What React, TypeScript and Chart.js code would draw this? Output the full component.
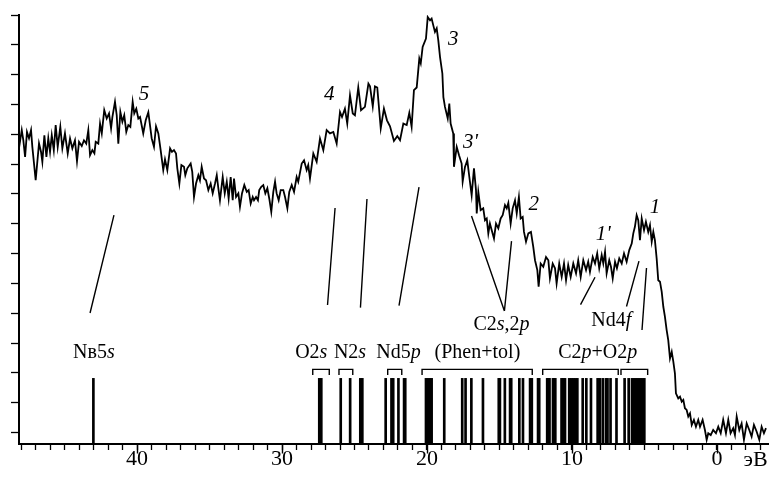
import React, { useEffect, useRef } from 'react';
import { Chart, registerables } from 'chart.js';

Chart.register(...registerables);

const FONT = "'Liberation Serif', 'Times New Roman', serif";

// axis ranges (eV, arbitrary intensity units)
const xLeftEv = 48.14;
const xRightEv = -3.52;
const yMin = -0.38;
const yMax = 14;

const majorTickValues = [40, 30, 20, 10, 0];
const yTickValues = [0, 1, 2, 3, 4, 5, 6, 7, 8, 9, 10, 11, 12, 13, 14];
const unitLabel = 'эВ';

// photoelectron spectrum: [binding energy eV, intensity]
const spectrum: [number, number][] = [
  [48.14, 9.54], [47.95, 10.14], [47.84, 9.8], [47.72, 9.24], [47.59, 10.08], [47.45, 9.87], [47.31, 10.14], [47.22, 9.58],
  [46.99, 8.46], [46.76, 9.7], [46.62, 9.41], [46.53, 9.08], [46.39, 9.97], [46.25, 9.24], [46.12, 9.87], [46.0, 9.41],
  [45.88, 9.97], [45.74, 9.47], [45.61, 10.31], [45.47, 9.58], [45.29, 10.25], [45.15, 9.53], [44.97, 10.03], [44.78, 9.36],
  [44.62, 9.86], [44.46, 9.53], [44.28, 9.8], [44.14, 9.1], [44.0, 9.75], [43.81, 9.61], [43.66, 9.8], [43.5, 9.69],
  [43.36, 10.14], [43.24, 9.3], [43.08, 9.47], [42.94, 9.36], [42.85, 9.75], [42.67, 9.69], [42.55, 10.36], [42.43, 10.03],
  [42.26, 10.81], [42.09, 10.53], [41.93, 10.7], [41.79, 10.2], [41.7, 10.58], [41.52, 11.09], [41.4, 10.64], [41.29, 9.69],
  [41.15, 10.75], [41.01, 10.42], [40.88, 10.64], [40.74, 10.08], [40.6, 10.31], [40.46, 10.25], [40.3, 11.09], [40.19, 10.7],
  [40.05, 10.86], [39.91, 10.53], [39.79, 10.58], [39.57, 10.03], [39.4, 10.47], [39.22, 10.74], [38.99, 9.87],
  [38.83, 9.58], [38.69, 10.27], [38.53, 10.03], [38.37, 9.47], [38.19, 8.8], [38.07, 9.16], [37.91, 8.8], [37.72, 9.53],
  [37.59, 9.41], [37.45, 9.47], [37.31, 9.36], [37.22, 8.86], [37.08, 8.35], [36.94, 8.97], [36.76, 8.91], [36.67, 8.63],
  [36.53, 8.86], [36.3, 9.02], [36.19, 8.74], [36.07, 7.9], [35.93, 8.35], [35.77, 8.63], [35.66, 8.46], [35.54, 8.91],
  [35.38, 8.52], [35.24, 8.46], [35.08, 8.13], [34.92, 8.35], [34.78, 8.02], [34.62, 8.35], [34.5, 8.63], [34.39, 8.19],
  [34.28, 7.79], [34.09, 8.57], [33.95, 8.02], [33.81, 8.41], [33.68, 7.85], [33.54, 8.57], [33.4, 7.79], [33.31, 8.52],
  [33.17, 7.9], [33.01, 8.02], [32.9, 7.57], [32.76, 8.02], [32.6, 8.3], [32.43, 8.07], [32.3, 8.13], [32.16, 7.68],
  [32.02, 7.9], [31.93, 7.79], [31.79, 7.9], [31.66, 7.79], [31.57, 8.13], [31.43, 8.24], [31.29, 8.3], [31.15, 8.02],
  [31.01, 8.19], [30.88, 7.85], [30.74, 7.4], [30.6, 8.07], [30.48, 8.41], [30.37, 8.02], [30.23, 7.79], [30.09, 8.13],
  [29.91, 8.13], [29.79, 7.9], [29.63, 7.52], [29.5, 8.07], [29.33, 8.3], [29.17, 8.07], [28.99, 8.57], [28.88, 8.41],
  [28.64, 9.02], [28.48, 9.13], [28.3, 8.8], [28.19, 8.97], [28.07, 8.52], [27.84, 9.36], [27.61, 9.08], [27.38, 9.86],
  [27.15, 9.47], [26.92, 10.14], [26.69, 10.03], [26.46, 10.08], [26.23, 9.69], [26.0, 10.75], [25.86, 10.58], [25.66, 10.86],
  [25.5, 10.36], [25.31, 11.31], [25.12, 10.7], [24.97, 10.64], [24.74, 11.57], [24.55, 10.81], [24.28, 10.92], [24.04, 11.7],
  [23.93, 11.61], [23.74, 10.94], [23.59, 11.61], [23.43, 11.57], [23.19, 10.2], [22.97, 10.86], [22.76, 10.47], [22.55, 10.27],
  [22.28, 9.78], [22.05, 9.94], [21.86, 9.8], [21.63, 10.36], [21.4, 10.31], [21.22, 10.72], [21.06, 10.25], [20.9, 11.48],
  [20.71, 11.57], [20.53, 12.54], [20.43, 12.38], [20.3, 12.93], [20.07, 13.21], [19.95, 13.93], [19.79, 13.82], [19.68, 13.88],
  [19.57, 13.66], [19.45, 13.43], [19.33, 13.55], [19.22, 13.15], [19.1, 12.59], [18.94, 12.04], [18.87, 11.25], [18.76, 10.92],
  [18.57, 10.53], [18.46, 11.03], [18.37, 10.36], [18.19, 10.03], [18.14, 8.91], [17.95, 9.58], [17.79, 9.3], [17.61, 9.02],
  [17.54, 8.41], [17.38, 8.91], [17.22, 9.13], [17.08, 8.57], [16.92, 7.96], [16.76, 8.86], [16.62, 8.13], [16.57, 7.35],
  [16.46, 8.07], [16.3, 7.46], [16.12, 7.52], [16.0, 7.12], [15.88, 7.18], [15.77, 6.68], [15.66, 7.01], [15.54, 6.79],
  [15.38, 6.51], [15.24, 7.01], [15.08, 6.85], [14.92, 7.18], [14.78, 7.29], [14.62, 7.63], [14.5, 7.52], [14.39, 7.7],
  [14.23, 7.01], [14.09, 7.52], [13.93, 7.79], [13.81, 7.35], [13.66, 7.9], [13.54, 7.18], [13.4, 7.23], [13.31, 6.73],
  [13.17, 6.4], [13.01, 6.68], [12.83, 6.73], [12.67, 6.23], [12.55, 5.78], [12.39, 5.45], [12.3, 4.89], [12.16, 5.67],
  [11.98, 5.56], [11.79, 5.89], [11.63, 5.78], [11.52, 5.17], [11.33, 5.67], [11.17, 5.51], [11.06, 5.0], [10.88, 5.67],
  [10.71, 5.22], [10.55, 5.67], [10.41, 5.11], [10.26, 5.62], [10.09, 5.22], [9.91, 5.67], [9.72, 5.34], [9.57, 5.78],
  [9.4, 5.22], [9.22, 5.78], [9.03, 5.45], [8.88, 5.73], [8.76, 5.39], [8.57, 5.89], [8.41, 5.67], [8.26, 6.01],
  [8.12, 5.51], [7.95, 5.95], [7.84, 5.67], [7.72, 6.06], [7.61, 5.34], [7.43, 5.78], [7.31, 5.56], [7.19, 5.17],
  [7.03, 5.73], [6.9, 5.51], [6.74, 5.84], [6.57, 5.67], [6.41, 6.01], [6.23, 5.73], [6.05, 6.12], [5.88, 6.34],
  [5.77, 6.68], [5.66, 6.9], [5.54, 7.29], [5.43, 7.12], [5.31, 6.45], [5.19, 7.18], [5.03, 6.79], [4.9, 7.07],
  [4.74, 6.73], [4.62, 6.96], [4.5, 6.4], [4.39, 6.73], [4.28, 6.45], [4.16, 5.84], [4.05, 5.11], [3.93, 5.06],
  [3.81, 4.72], [3.7, 4.22], [3.59, 3.89], [3.47, 3.44], [3.36, 3.1], [3.24, 2.49], [3.12, 2.71], [3.01, 2.38],
  [2.9, 1.99], [2.83, 1.32], [2.67, 1.15], [2.55, 1.21], [2.43, 1.04], [2.32, 1.1], [2.21, 0.82], [2.09, 0.76],
  [1.98, 0.54], [1.86, 0.65], [1.74, 0.26], [1.59, 0.43], [1.45, 0.2], [1.29, 0.43], [1.17, 0.2], [0.99, 0.43],
  [0.83, 0.09], [0.71, -0.24], [0.6, -0.02], [0.43, -0.08], [0.26, 0.09], [0.07, -0.02], [-0.09, 0.2], [-0.26, -0.02],
  [-0.43, 0.43], [-0.62, -0.02], [-0.78, 0.43], [-0.94, -0.02], [-1.12, 0.15], [-1.24, -0.08], [-1.36, 0.54], [-1.54, 0.09],
  [-1.7, 0.31], [-1.86, -0.24], [-2.05, 0.31], [-2.23, 0.09], [-2.39, -0.13], [-2.55, 0.26], [-2.74, 0.03], [-2.92, -0.24],
  [-3.08, 0.2], [-3.24, -0.02], [-3.38, 0.15],
];

// calculated one-electron levels (eV)
const levelEnergies = [
  43.01,
  27.43, 27.29, 25.95, 25.3, 24.6, 24.46,
  22.85, 22.45, 22.33, 21.97, 21.58, 21.5,
  20.07, 19.93, 19.79, 19.68, 18.81, 17.57, 17.34, 16.94, 16.14, 15.05, 14.97, 14.63,
  14.27, 14.19, 13.63, 13.38, 12.89, 12.77, 12.34, 12.26,
  11.71, 11.63, 11.55, 11.31, 11.23, 11.15, 10.72, 10.6, 10.48,
  10.19, 10.05, 9.91, 9.77, 9.63, 9.26, 9.01, 8.69, 8.23, 8.09, 7.88, 7.66, 7.55, 7.34, 6.93,
  6.37, 6.09, 5.86, 5.72, 5.59, 5.45, 5.31, 5.17, 5.01,
];
const levelTop = 1.82;

// group brackets [from eV, to eV]
const bracketRanges: [number, number][] = [
  [27.88, 26.74], [26.07, 25.12], [22.71, 21.74], [20.34, 12.74], [12.02, 6.81], [6.62, 4.78],
];
const bracketTop = 2.12;
const bracketLeg = 1.93;

// assignment guide lines [[eV, y], [eV, y]]
const guideLines: [number, number][][] = [
  [[41.59, 7.29], [43.24, 4.01]],
  [[26.34, 7.53], [26.86, 4.28]],
  [[24.14, 7.83], [24.59, 4.19]],
  [[20.55, 8.23], [21.93, 4.26]],
  [[16.93, 7.26], [14.66, 4.08]],
  [[14.17, 6.42], [14.66, 4.08]],
  [[8.41, 5.21], [9.41, 4.29]],
  [[5.38, 5.75], [6.24, 4.23]],
  [[4.86, 5.52], [5.17, 3.44]],
];

// text: '_' toggles italic
const bandLabels = [
  { text: 'Nв5_s_', e: 42.97, y: 2.5 },
  { text: 'O2_s_', e: 27.98, y: 2.5 },
  { text: 'N2_s_', e: 25.31, y: 2.5 },
  { text: 'Nd5_p_', e: 21.97, y: 2.5 },
  { text: '(Phen+tol)', e: 16.52, y: 2.5 },
  { text: 'C2_p_+O2_p_', e: 8.22, y: 2.5 },
  { text: 'C2_s_,2_p_', e: 14.86, y: 3.44 },
  { text: 'Nd4_f_', e: 7.29, y: 3.57 },
];
const peakLabels = [
  { text: '5', e: 39.52, y: 11.14 },
  { text: '4', e: 26.74, y: 11.14 },
  { text: '3', e: 18.19, y: 12.99 },
  { text: "3'", e: 17.0, y: 9.53 },
  { text: '2', e: 12.64, y: 7.48 },
  { text: "1'", e: 7.84, y: 6.45 },
  { text: '1', e: 4.28, y: 7.35 },
];
const unitLabelEv = -2.66;

function drawRich(ctx: CanvasRenderingContext2D, text: string, cx: number, base: number, size: number, allItalic: boolean) {
  const parts = text.split('_').map((t, i) => ({ t, it: allItalic || i % 2 === 1 }));
  const fontFor = (it: boolean) => `${it ? 'italic ' : ''}${size}px ${FONT}`;
  let total = 0;
  for (const p of parts) {
    ctx.font = fontFor(p.it);
    total += ctx.measureText(p.t).width;
  }
  let x = cx - total / 2;
  ctx.textAlign = 'left';
  ctx.textBaseline = 'alphabetic';
  for (const p of parts) {
    ctx.font = fontFor(p.it);
    ctx.fillText(p.t, x, base);
    x += ctx.measureText(p.t).width;
  }
}

const labelPlugin = {
  id: 'spectrumLabels',
  afterDraw(chart: any) {
    const { ctx, chartArea } = chart;
    const xs = chart.scales.x;
    const ys = chart.scales.y;
    ctx.save();
    ctx.strokeStyle = '#000';
    ctx.lineWidth = 1.4;
    for (const v of majorTickValues) {
      const px = Math.round(xs.getPixelForValue(v)) + 0.5;
      ctx.beginPath();
      ctx.moveTo(px, chartArea.bottom);
      ctx.lineTo(px, chartArea.bottom + 9.5);
      ctx.stroke();
    }
    ctx.fillStyle = '#000';
    for (const l of bandLabels) {
      drawRich(ctx, l.text, xs.getPixelForValue(l.e), ys.getPixelForValue(l.y), 20, false);
    }
    for (const l of peakLabels) {
      drawRich(ctx, l.text, xs.getPixelForValue(l.e), ys.getPixelForValue(l.y), 21, true);
    }
    drawRich(ctx, unitLabel, xs.getPixelForValue(unitLabelEv), chartArea.bottom + 22, 22, false);
    ctx.restore();
  },
};

export default function App() {
  const ref = useRef<HTMLCanvasElement | null>(null);

  useEffect(() => {
    if (!ref.current) return;
    const bracketPoints: any[] = [];
    for (const [a, b] of bracketRanges) {
      bracketPoints.push({ x: a, y: bracketLeg }, { x: a, y: bracketTop }, { x: b, y: bracketTop }, { x: b, y: bracketLeg }, { x: b, y: null });
    }
    const guidePoints: any[] = [];
    for (const [p, q] of guideLines) {
      guidePoints.push({ x: p[0], y: p[1] }, { x: q[0], y: q[1] }, { x: q[0], y: null });
    }
    const chart = new Chart(ref.current, {
      type: 'line',
      data: {
        datasets: [
          {
            type: 'line',
            data: spectrum.map(([x, y]) => ({ x, y })),
            borderColor: '#000',
            borderWidth: 1.8,
            pointRadius: 0,
            tension: 0,
            fill: false,
          },
          {
            type: 'bar',
            data: levelEnergies.map((e) => ({ x: e, y: [yMin, levelTop] })),
            backgroundColor: '#000',
            borderWidth: 0,
            barThickness: 2,
            grouped: false,
          } as any,
          {
            type: 'line',
            data: bracketPoints,
            borderColor: '#000',
            borderWidth: 1.4,
            pointRadius: 0,
            spanGaps: false,
            fill: false,
          },
          {
            type: 'line',
            data: guidePoints,
            borderColor: '#000',
            borderWidth: 1.4,
            pointRadius: 0,
            spanGaps: false,
            fill: false,
          },
        ],
      },
      options: {
        responsive: false,
        animation: false,
        devicePixelRatio: 1,
        events: [],
        layout: { padding: { top: 15, right: 4, left: 0, bottom: 0 } },
        plugins: { legend: { display: false }, tooltip: { enabled: false } },
        scales: {
          x: {
            type: 'linear',
            reverse: true,
            min: xRightEv,
            max: xLeftEv,
            offset: false,
            afterBuildTicks: (s: any) => {
              const t: any[] = [];
              for (let v = Math.ceil(xRightEv); v <= Math.floor(xLeftEv); v++) t.push({ value: v });
              s.ticks = t;
            },
            afterFit: (s: any) => {
              s.height = 36;
            },
            grid: {
              display: true,
              drawOnChartArea: false,
              drawTicks: true,
              tickLength: 6,
              tickWidth: 1.3,
              tickColor: '#000',
              offset: false,
            },
            border: { display: true, color: '#000', width: 2 },
            ticks: {
              autoSkip: false,
              maxRotation: 0,
              minRotation: 0,
              padding: -2,
              color: '#000',
              font: { family: FONT, size: 22, lineHeight: 1 },
              callback: (v: any) => (majorTickValues.includes(Number(v)) ? String(v) : ''),
            },
          },
          y: {
            type: 'linear',
            min: yMin,
            max: yMax,
            afterBuildTicks: (s: any) => {
              s.ticks = yTickValues.map((v) => ({ value: v }));
            },
            afterFit: (s: any) => {
              s.width = 19;
            },
            grid: {
              display: true,
              drawOnChartArea: false,
              drawTicks: true,
              tickLength: 8,
              tickWidth: 1.3,
              tickColor: '#000',
            },
            border: { display: true, color: '#000', width: 2 },
            ticks: { display: false },
          },
        },
      } as any,
      plugins: [labelPlugin],
    });
    return () => chart.destroy();
  }, []);

  return (
    <div style={{ position: 'fixed', left: 0, top: 0, width: 772, height: 480, background: '#fff' }}>
      <canvas ref={ref} width={772} height={480} style={{ display: 'block', width: 772, height: 480 }} />
    </div>
  );
}
